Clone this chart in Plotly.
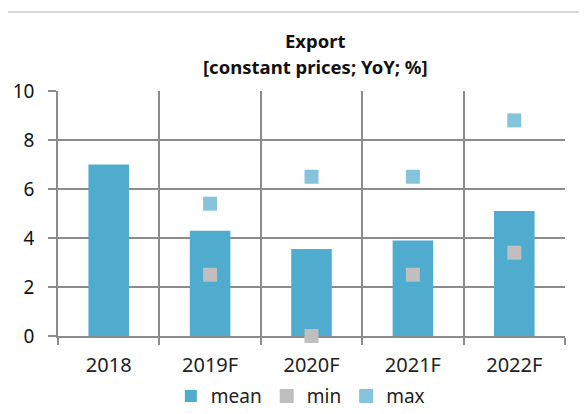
import plotly.graph_objects as go

categories = ["2018", "2019F", "2020F", "2021F", "2022F"]
mean_vals = [7.0, 4.3, 3.55, 3.9, 5.1]
min_vals = [None, 2.5, 0.0, 2.5, 3.4]
max_vals = [None, 5.4, 6.5, 6.5, 8.8]
title_lines = ["Export", "[constant prices; YoY; %]"]

FONT = "Noto Sans"
fig = go.Figure()
fig.add_trace(go.Bar(x=categories, y=mean_vals, name="mean", width=0.4,
                     marker=dict(color="#4FACCE", line=dict(width=0))))
fig.add_trace(go.Scatter(x=categories, y=min_vals, name="min", mode="markers",
                         cliponaxis=False,
                         marker=dict(symbol="square", size=14, color="#BFBFBF")))
fig.add_trace(go.Scatter(x=categories, y=max_vals, name="max", mode="markers",
                         cliponaxis=False,
                         marker=dict(symbol="square", size=14, color="#86C4DC")))

fig.update_layout(
    width=587, height=414,
    margin=dict(l=50, r=30, t=83, b=86, autoexpand=False),
    paper_bgcolor="white", plot_bgcolor="white",
    font=dict(family=FONT, size=19, color="#222"),
    showlegend=True,
    legend=dict(orientation="h", x=0.478, xanchor="center", y=-0.168, yanchor="top",
                font=dict(size=19, color="#222"), itemwidth=30, tracegroupgap=0),
    xaxis=dict(type="category", tickson="boundaries", showgrid=True,
               gridcolor="#8C8C8C", gridwidth=1.5, ticks="outside", ticklen=7,
               tickcolor="#8C8C8C", tickwidth=1.5, showline=True,
               linecolor="#8C8C8C", linewidth=1.5, mirror=False,
               ticklabelstandoff=10, layer="below traces",
               tickfont=dict(size=20, color="#222")),
    yaxis=dict(range=[0, 10], dtick=2, showgrid=True, gridcolor="#8C8C8C",
               gridwidth=1.5, ticks="outside", ticklen=8, tickcolor="#8C8C8C",
               tickwidth=1.5, showline=True, linecolor="#8C8C8C", linewidth=1.5,
               zeroline=False, ticklabelstandoff=10,
               tickfont=dict(size=19, color="#111")),
    annotations=[
        dict(text="<b>%s</b>" % title_lines[0], xref="paper", yref="paper",
             x=0.507, y=1.208, xanchor="center", yanchor="middle", showarrow=False,
             font=dict(family=FONT, size=18.5, color="#111")),
        dict(text="<b>%s</b>" % title_lines[1], xref="paper", yref="paper",
             x=0.507, y=1.102, xanchor="center", yanchor="middle", showarrow=False,
             font=dict(family=FONT, size=18.5, color="#111")),
    ],
    shapes=[dict(type="rect", xref="paper", yref="paper",
                 x0=-0.1026, x1=1.2, y0=-0.5, y1=1.322,
                 line=dict(color="#D0D0D0", width=1.5), layer="below")],
)
fig.write_html("out.html")
